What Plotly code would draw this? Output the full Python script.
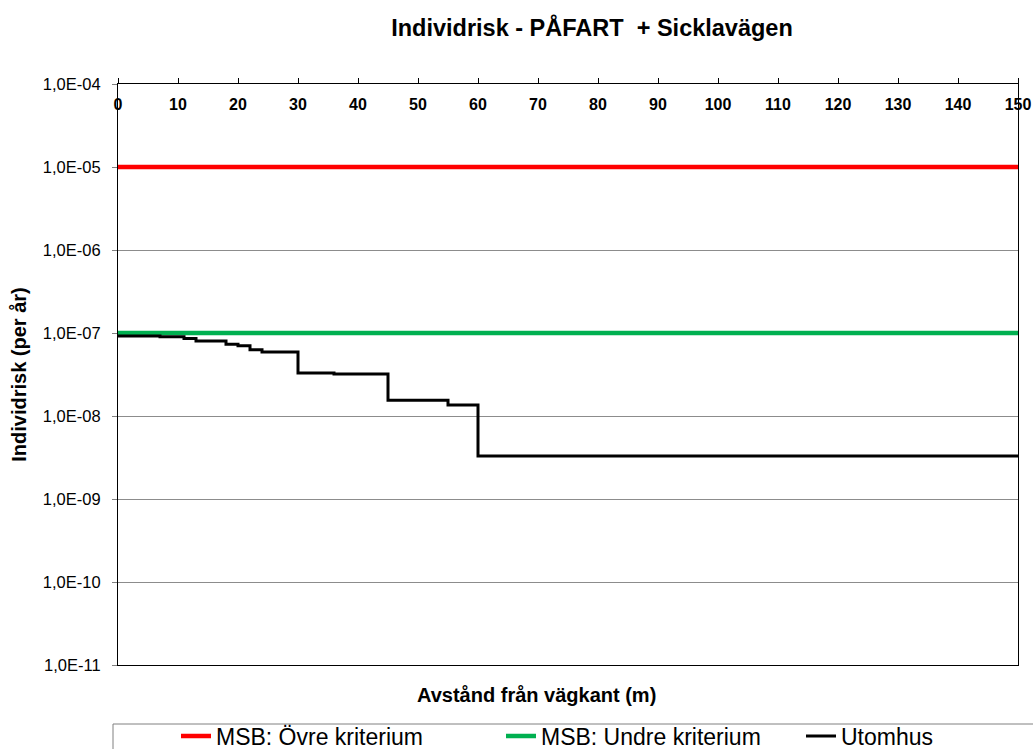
import plotly.graph_objects as go

# Data
x_steps = [0, 7, 11, 13, 18, 20, 22, 24, 30, 36, 45, 55, 60, 150]
risk_utomhus = [9.2e-8, 9.0e-8, 8.6e-8, 8.0e-8, 7.3e-8, 7.0e-8, 6.3e-8, 5.9e-8,
                3.3e-8, 3.2e-8, 1.55e-8, 1.36e-8, 3.3e-9, 3.3e-9]
x_crit = [0, 150]
ovre_kriterium = [1e-5, 1e-5]
undre_kriterium = [1e-7, 1e-7]

y_tickvals = [1e-4, 1e-5, 1e-6, 1e-7, 1e-8, 1e-9, 1e-10, 1e-11]
y_ticktext = ["1,0E-04", "1,0E-05", "1,0E-06", "1,0E-07", "1,0E-08", "1,0E-09", "1,0E-10", "1,0E-11"]
x_tickvals = list(range(0, 151, 10))

font_family = "Liberation Sans, Arial, sans-serif"
W, H = 1033, 749

fig = go.Figure()
fig.add_trace(go.Scatter(x=x_crit, y=ovre_kriterium, mode="lines",
                         line=dict(color="#ff0000", width=4.5),
                         name="MSB: Övre kriterium", legend="legend"))
fig.add_trace(go.Scatter(x=x_crit, y=undre_kriterium, mode="lines",
                         line=dict(color="#00b050", width=4.5),
                         name="MSB: Undre kriterium", legend="legend2"))
fig.add_trace(go.Scatter(x=x_steps, y=risk_utomhus, mode="lines",
                         line=dict(color="#000000", width=3, shape="hv"),
                         name="Utomhus", legend="legend3"))

def leg(px_left):
    return dict(
        xref="container", yref="container",
        x=px_left / W, xanchor="left", y=1 - 736 / H, yanchor="middle",
        orientation="h", borderwidth=0, bgcolor="rgba(0,0,0,0)",
        font=dict(size=23, family=font_family, color="black"),
    )

fig.update_layout(
    width=W, height=H,
    margin=dict(l=118, r=15, t=84, b=84, autoexpand=False),
    paper_bgcolor="white", plot_bgcolor="white",
    font=dict(family=font_family, color="black"),
    title=dict(text="<b>Individrisk - PÅFART  + Sicklavägen</b>",
               xref="container", yref="container",
               x=592 / W, xanchor="center", y=1 - 28 / H, yanchor="middle",
               font=dict(size=23.5, family=font_family)),
    xaxis=dict(
        range=[0, 150], side="top", tickvals=x_tickvals,
        ticks="outside", ticklen=5, tickcolor="black",
        ticklabelposition="inside", ticklabeloverflow="allow",
        ticklabelstandoff=15,
        tickfont=dict(size=16, family=font_family, color="black", weight="bold"),
        showgrid=False, zeroline=False,
        showline=True, linecolor="black", linewidth=1.2, mirror=True,
    ),
    yaxis=dict(
        type="log", range=[-11, -4], tickvals=y_tickvals, ticktext=y_ticktext,
        ticks="outside", ticklen=5, tickcolor="#808080",
        ticklabelstandoff=8,
        tickfont=dict(size=16.5, family=font_family, color="black"),
        showgrid=True, gridcolor="#8c8c8c", gridwidth=1,
        showline=True, linecolor="black", linewidth=1.2, mirror=True,
        zeroline=False,
        title=dict(text="<b>Individrisk (per år)</b>", standoff=10,
                   font=dict(size=20, family=font_family)),
    ),
    showlegend=True,
    legend=leg(176),
    legend2=leg(501),
    legend3=leg(801),
    annotations=[dict(
        text="<b>Avstånd från vägkant (m)</b>", xref="paper", yref="paper",
        x=(536 - 118) / 900, y=(665 - 695) / 581, xanchor="center", yanchor="middle",
        showarrow=False, font=dict(size=20, family=font_family),
    )],
    shapes=[dict(
        type="rect", xref="paper", yref="paper",
        x0=(113 - 118) / 900, x1=1.1, y0=(665 - 724) / 581, y1=-0.3,
        line=dict(color="#808080", width=1), fillcolor="rgba(0,0,0,0)",
        layer="below",
    )],
)

fig.write_html("out.html")
